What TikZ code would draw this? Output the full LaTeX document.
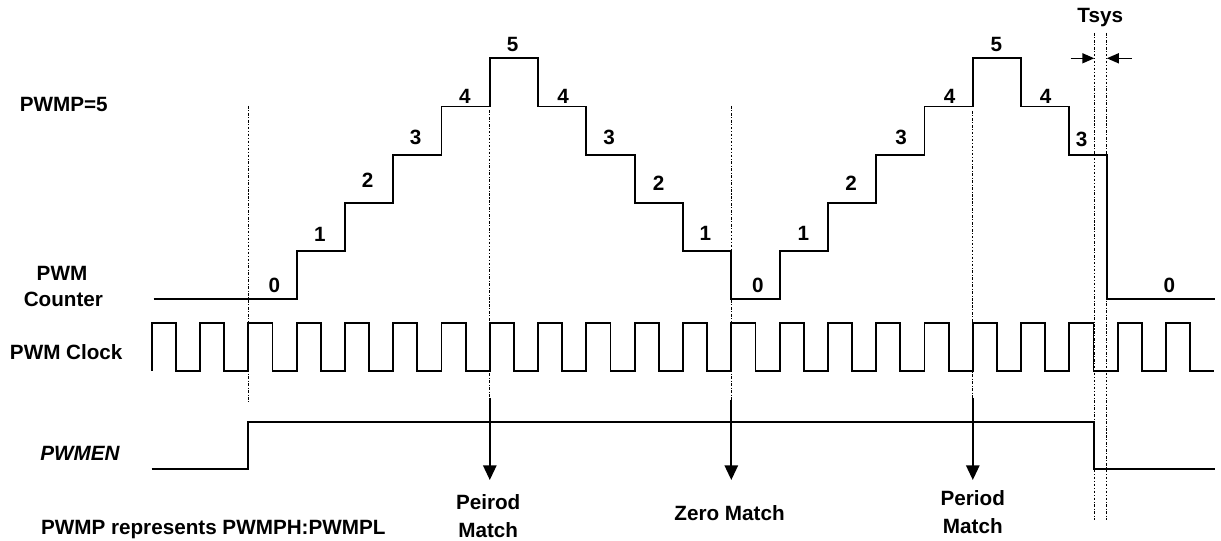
\documentclass[tikz,border=0pt]{standalone}
\usepackage{fontspec}
\setmainfont{Liberation Sans}
\usetikzlibrary{arrows.meta}
\begin{document}
\begin{tikzpicture}[x=0.75pt,y=-0.75pt,
  sig/.style={line width=1.4pt,line join=miter},
  guide/.style={line width=0.9pt,dash pattern=on 2pt off 1.2pt on 0.8pt off 1.2pt},
  marr/.style={line width=1.4pt,-{Triangle[length=11pt,width=10pt]}},
  tarr/.style={line width=1.1pt,-{Triangle[length=9pt,width=7.5pt]}},
  txt/.style={inner sep=0pt,font=\fontsize{15.5}{18}\selectfont\bfseries},
  num/.style={txt}]
\fill[white] (0,0) rectangle (1221,541);
\useasboundingbox (0,0) rectangle (1221,541);

% PWM clock
\draw[sig] (151.7,371) \foreach \k in {0,...,21}{ -- ++(0,-47.7) -- ++(24.15,0) -- ++(0,47.7) -- ++(24.15,0) };

% PWM counter
\draw[sig] (153.7,299.3)
  \foreach \k/\n in {3/1,4/2,5/3,6/4,7/5,8/4,9/3,10/2,11/1,12/0,13/1,14/2,15/3,16/4,17/5,18/4,19/3}
  { -| ({151.7+\k*48.3},{299.3-48.2*\n}) }
  -| (1106.8,299.3) -- (1215,299.3);

% PWMEN
\draw[sig] (151.7,469.3) -- (248.3,469.3) -- (248.3,421.7) -- (1094.3,421.7) -- (1094.3,469.3) -- (1215,469.3);

% guide lines and match arrows
\coordinate (d1t) at (248.3,106);  \coordinate (d1b) at (248.3,402);
\coordinate (d2t) at (489.8,110);  \coordinate (d2m) at (489.8,398); \coordinate (d2b) at (489.8,480);
\coordinate (d3t) at (731.3,106);  \coordinate (d3m) at (731.3,400); \coordinate (d3b) at (731.3,480);
\coordinate (d4t) at (972.8,111);  \coordinate (d4m) at (972.8,398); \coordinate (d4b) at (972.8,480);
\coordinate (t1t) at (1094.3,33);  \coordinate (t1b) at (1094.3,520);
\coordinate (t2t) at (1106.8,33);  \coordinate (t2b) at (1106.8,520);
\draw[guide] (d1t) -- (d1b);
\draw[guide] (d2t) -- (d2m);
\draw[guide] (d3t) -- (d3m);
\draw[guide] (d4t) -- (d4m);
\draw[guide] (t1t) -- (t1b);
\draw[guide] (t2t) -- (t2b);
\draw[marr] (d2m) -- (d2b);
\draw[marr] (d3m) -- (d3b);
\draw[marr] (d4m) -- (d4b);

% Tsys
\coordinate (ta1s) at (1070.7,58.3); \coordinate (ta1e) at (1094.3,58.3);
\coordinate (ta2s) at (1131.7,58.3); \coordinate (ta2e) at (1106.8,58.3);
\draw[tarr] (ta1s) -- (ta1e);
\draw[tarr] (ta2s) -- (ta2e);
\node[txt,anchor=base] (tsys) at (1100.2,22.7) {Tsys};

% counter values
\node[num] (c0a) at (274.3,285) {0};
\node[num] (c1a) at (319.8,234.3) {1};
\node[num] (c2a) at (367.6,180) {2};
\node[num] (c3a) at (415.5,137.7) {3};
\node[num] (c4a) at (464.9,96.7) {4};
\node[num] (c5a) at (512.7,44.3) {5};
\node[num] (c4b) at (563,96.7) {4};
\node[num] (c3b) at (609,137.7) {3};
\node[num] (c2b) at (658.6,183.3) {2};
\node[num] (c1b) at (705.3,233.3) {1};
\node[num] (c0b) at (757.8,285) {0};
\node[num] (c1c) at (803.3,233.3) {1};
\node[num] (c2c) at (851.2,183.3) {2};
\node[num] (c3c) at (901,137.7) {3};
\node[num] (c4c) at (949.6,96.7) {4};
\node[num] (c5b) at (996.3,44.3) {5};
\node[num] (c4d) at (1045.7,96.7) {4};
\node[num] (c3d) at (1081.5,139.3) {3};
\node[num] (c0c) at (1169.4,285) {0};

% signal labels
\node[txt,anchor=west] (pwmp) at (19.5,104) {PWMP=5};
\node[txt] (cnt1) at (62,273.3) {PWM};
\node[txt] (cnt2) at (63.4,299.3) {Counter};
\node[txt,anchor=west] (clk) at (9.7,352.3) {PWM Clock};
\node[txt,font=\fontsize{15.5}{18}\selectfont\bfseries\itshape] (en) at (80,453.3) {PWMEN};
\node[txt,anchor=base west] (note) at (40.8,534) {PWMP represents PWMPH:PWMPL};

% match labels
\node[txt,anchor=base] (pm1a) at (488.2,509) {Peirod};
\node[txt,anchor=base] (pm1b) at (488.2,537) {Match};
\node[txt,anchor=base] (zm) at (729.6,520.3) {Zero Match};
\node[txt,anchor=base] (pm2a) at (972.8,505.3) {Period};
\node[txt,anchor=base] (pm2b) at (972.8,533.7) {Match};
\end{tikzpicture}
\end{document}
